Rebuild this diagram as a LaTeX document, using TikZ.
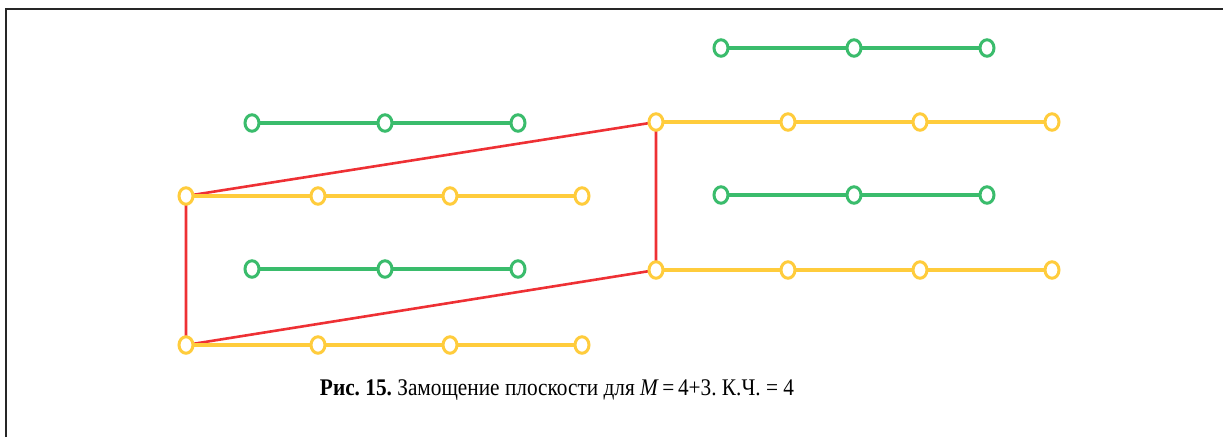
\documentclass[tikz,border=0pt]{standalone}
\usepackage{fontspec}
\setmainfont{Liberation Serif}
\usetikzlibrary{shapes.geometric}
\frenchspacing
\definecolor{chaingreen}{RGB}{58,188,108}
\definecolor{chainyellow}{RGB}{255,204,60}
\definecolor{cellred}{RGB}{238,48,52}
\tikzset{
  x=1pt, y=-1pt,
  atom/.style={ellipse, draw, line width=3pt, fill=white, minimum width=14pt, minimum height=16.5pt, inner sep=0pt},
  gatom/.style={atom, draw=chaingreen},
  yatom/.style={atom, draw=chainyellow},
  gbond/.style={draw=chaingreen, line width=3.2pt},
  ybond/.style={draw=chainyellow, line width=3.2pt},
  cell/.style={draw=cellred, line width=2.6pt},
  frame/.style={draw=black!85, line width=2pt}
}
\begin{document}
\begin{tikzpicture}
\useasboundingbox (0,0) rectangle (1223,437);
% page frame
\draw[frame] (6,437) -- (6,9) -- (1223,9);

% unit cell (drawn first, below the atoms)
\coordinate (c1) at (186,196);
\coordinate (c2) at (656,122);
\coordinate (c3) at (656,270);
\coordinate (c4) at (186,345);
\draw[cell] (c1) -- (c2) -- (c3) -- (c4) -- cycle;

% green three-atom chains
\foreach \n/\x/\y in {ga/721/48, gb/252/123, gc/721/195, gd/252/269} {
  \coordinate (\n1) at (\x,\y);
  \coordinate (\n2) at (\x+133,\y);
  \coordinate (\n3) at (\x+266,\y);
  \draw[gbond] (\n1) -- (\n2) -- (\n3);
  \foreach \k in {1,2,3} \node[gatom] (\n\k a) at (\n\k) {};
}

% yellow four-atom chains
\foreach \n/\x/\y in {ya/656/122, yb/186/196, yc/656/270, yd/186/345} {
  \coordinate (\n1) at (\x,\y);
  \coordinate (\n2) at (\x+132,\y);
  \coordinate (\n3) at (\x+264,\y);
  \coordinate (\n4) at (\x+396,\y);
  \draw[ybond] (\n1) -- (\n2) -- (\n3) -- (\n4);
  \foreach \k in {1,2,3,4} \node[yatom] (\n\k a) at (\n\k) {};
}

% caption
\node[font=\fontsize{21.3}{25}\selectfont] (caption) at (557,390)
  {\scalebox{1}[1.12]{\textbf{Рис. 15.} Замощение плоскости для \textit{M}\,=\,4+3. К.Ч. = 4}};
\end{tikzpicture}
\end{document}
